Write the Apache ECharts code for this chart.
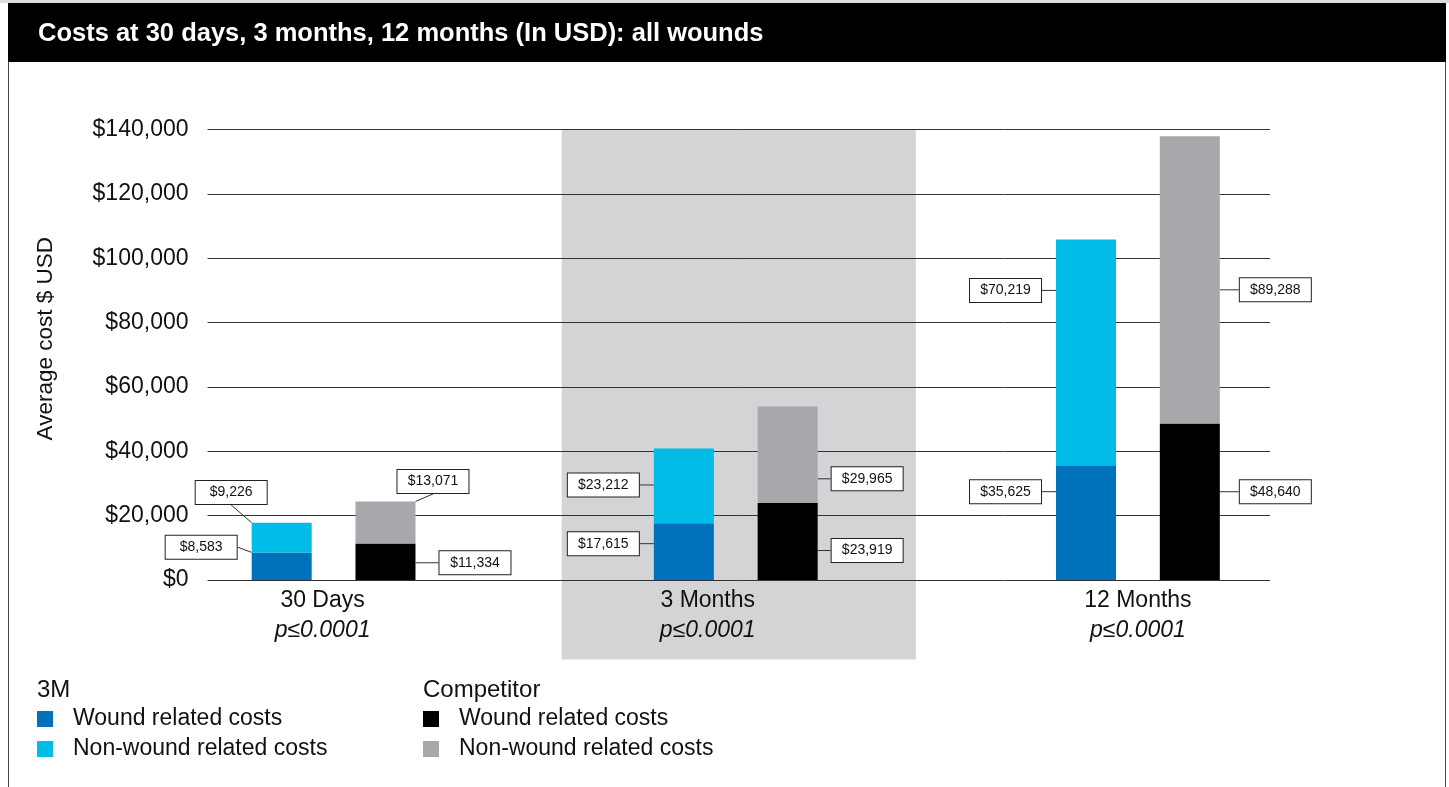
<!DOCTYPE html>
<html>
<head>
<meta charset="utf-8">
<title>Costs at 30 days, 3 months, 12 months</title>
<script src="https://cdn.jsdelivr.net/npm/echarts@6/dist/echarts.min.js"></script>
<style>
  html, body { margin: 0; padding: 0; background: #fff; }
  #strip { position: absolute; left: 0; top: 0; width: 1449px; height: 3px; background: #dcdcdc; }
  #frame { position: absolute; left: 8px; top: 3px; width: 1436px; height: 800px; border-left: 1.5px solid #444; border-right: 1.5px solid #444; }
  #main { position: absolute; left: 0; top: 0; width: 1449px; height: 787px; }
</style>
</head>
<body>
<div id="strip"></div>
<div id="frame"></div>
<div id="main"></div>
<script>
  // data
  var categories = ['30 Days', '3 Months', '12 Months']
  var pValues = ['p≤0.0001', 'p≤0.0001', 'p≤0.0001']
  var woundCosts3M = [8583, 17615, 35625]
  var nonWoundCosts3M = [9226, 23212, 70219]
  var woundCostsComp = [11334, 23919, 48640]
  var nonWoundCostsComp = [13071, 29965, 89288]
  var yTicks = [0, 20000, 40000, 60000, 80000, 100000, 120000, 140000]

  var FONT = '"Liberation Sans", Arial, sans-serif'
  var money = function (v) { return '$' + Number(v).toLocaleString('en-US') }

  // label box nudges [dx, dy] per category (layout only)
  var labelNudge = [
    [[0, -19], [0, -8], [0, -31]],
    [[30, -45], [0, -1], [0, -62]],
    [[9, 1], [-1, 9], [5, -10]],
    [[-33, -41], [-1, 24], [5, 10]]
  ]
  // shift of the category captions, in px
  var captionShift = [-11, -28, 0]

  var myChart = echarts.init(document.getElementById('main'))

  function barSeries (idx, name, stack, values, color, side) {
    return {
      name: name,
      type: 'bar',
      xAxisIndex: 2,
      yAxisIndex: 2,
      stack: stack,
      barWidth: 60,
      barGap: '73%',
      data: values,
      itemStyle: { color: color },
      label: {
        show: true,
        position: side,
        distance: 15,
        formatter: function (p) { return '{v|' + money(p.value) + '}' },
        backgroundColor: '#fff',
        borderColor: '#222',
        borderWidth: 1,
        padding: [4, 7],
        rich: {
          v: { width: 57, align: 'center', fontSize: 14, lineHeight: 15, color: '#111', fontFamily: FONT }
        }
      },
      labelLine: { show: true, lineStyle: { color: '#333', width: 1 } },
      labelLayout: function (p) {
        var n = labelNudge[idx][p.dataIndex]
        return { dx: n[0], dy: n[1] }
      },
      emphasis: { disabled: true }
    }
  }

  var captionRich = {}
  captionShift.forEach(function (s, i) {
    var pad = s < 0 ? [0, -2 * s, 0, 0] : [0, 0, 0, 2 * s]
    captionRich['c' + i] = { fontSize: 23, lineHeight: 30, color: '#111', fontFamily: FONT, padding: pad }
    captionRich['p' + i] = { fontSize: 23, lineHeight: 30, color: '#111', fontFamily: FONT, fontStyle: 'italic', padding: pad }
  })

  var legendText = { fontSize: 23, lineHeight: 26, color: '#111', padding: [0, 0, 0, 15], fontFamily: FONT }
  var headerText = { fontSize: 24, lineHeight: 26, fontWeight: 'normal', color: '#111', fontFamily: FONT }

  var option = {
    animation: false,
    textStyle: { fontFamily: FONT },
    title: [
      {
        text: 'Costs at 30 days, 3 months, 12 months (In USD): all wounds',
        left: 8,
        top: 3,
        padding: [17, 30, 14, 30],
        backgroundColor: '#000',
        textStyle: { color: '#fff', fontSize: 25.5, fontWeight: 'bold', lineHeight: 28, width: 1378, fontFamily: FONT }
      },
      { text: '3M', left: 37, top: 677, padding: 0, textStyle: headerText },
      { text: 'Competitor', left: 423, top: 677, padding: 0, textStyle: headerText }
    ],
    legend: [
      {
        left: 37,
        top: 706,
        orient: 'vertical',
        icon: 'rect',
        itemWidth: 16,
        itemHeight: 16,
        itemGap: 4,
        padding: 0,
        selectedMode: false,
        data: ['3M: Wound related costs', '3M: Non-wound related costs'],
        formatter: function (n) { return n.split(': ')[1] },
        textStyle: legendText
      },
      {
        left: 423,
        top: 706,
        orient: 'vertical',
        icon: 'rect',
        itemWidth: 16,
        itemHeight: 16,
        itemGap: 4,
        padding: 0,
        selectedMode: false,
        data: ['Competitor: Wound related costs', 'Competitor: Non-wound related costs'],
        formatter: function (n) { return n.split(': ')[1] },
        textStyle: legendText
      }
    ],
    grid: [
      // gridlines + y labels
      { left: 207.5, top: 129.5, width: 1062.5, height: 450.5 },
      // shaded middle band, running down past the captions
      { left: 207.5, top: 129.5, width: 1062.5, height: 530 },
      // bars
      { left: 132.5, top: 129.5, width: 1206.5, height: 450.5 }
    ],
    xAxis: [
      { type: 'category', gridIndex: 0, data: categories, show: false },
      {
        type: 'category',
        gridIndex: 1,
        data: categories,
        axisLine: { show: false },
        axisTick: { show: false },
        axisLabel: { show: false },
        splitArea: {
          show: true,
          interval: 0,
          areaStyle: { color: ['rgba(0,0,0,0)', '#d3d4d6', 'rgba(0,0,0,0)'] }
        },
        z: -1
      },
      {
        type: 'category',
        gridIndex: 2,
        data: categories,
        axisLine: { show: false },
        axisTick: { show: false },
        axisLabel: {
          margin: 6,
          interval: 0,
          formatter: function (v, i) {
            return '{c' + i + '|' + v + '}\n{p' + i + '|' + pValues[i] + '}'
          },
          rich: captionRich
        }
      }
    ],
    yAxis: [
      {
        type: 'value',
        gridIndex: 0,
        min: yTicks[0],
        max: yTicks[yTicks.length - 1],
        interval: yTicks[1] - yTicks[0],
        name: 'Average cost $ USD',
        nameLocation: 'middle',
        nameGap: 150,
        nameTextStyle: { fontSize: 22.5, color: '#111', padding: [0, 0, 0, 32], fontFamily: FONT },
        axisLine: { show: false },
        axisTick: { show: false },
        axisLabel: { fontSize: 23, color: '#111', margin: 19, formatter: money },
        splitLine: { lineStyle: { color: '#333', width: 1 } }
      },
      { type: 'value', gridIndex: 1, show: false },
      {
        type: 'value',
        gridIndex: 2,
        min: yTicks[0],
        max: yTicks[yTicks.length - 1],
        show: false
      }
    ],
    series: [
      barSeries(0, '3M: Wound related costs', '3M', woundCosts3M, '#0071bb', 'left'),
      barSeries(1, '3M: Non-wound related costs', '3M', nonWoundCosts3M, '#00bce6', 'left'),
      barSeries(2, 'Competitor: Wound related costs', 'comp', woundCostsComp, '#000000', 'right'),
      barSeries(3, 'Competitor: Non-wound related costs', 'comp', nonWoundCostsComp, '#a7a8ab', 'right')
    ]
  }

  myChart.setOption(option)
</script>
</body>
</html>
